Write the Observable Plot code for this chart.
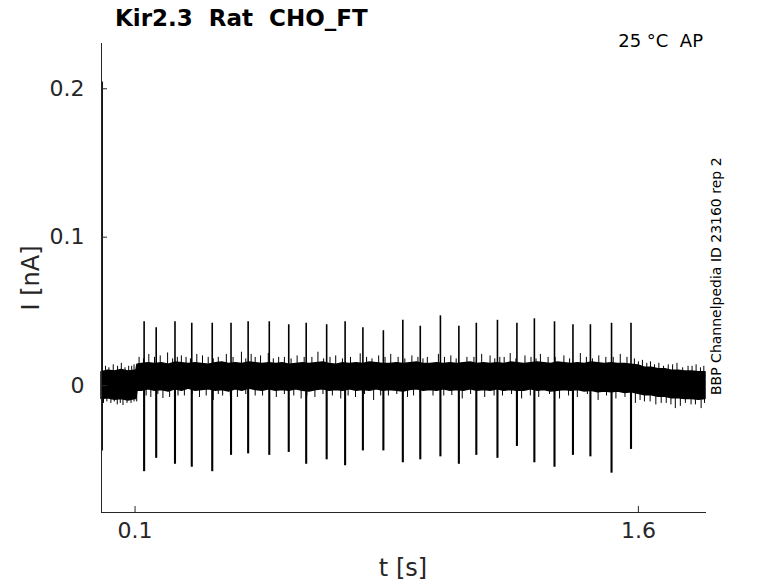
<!DOCTYPE html>
<html>
<head>
<meta charset="utf-8">
<script src="https://cdn.jsdelivr.net/npm/d3@7"></script>
<script src="https://cdn.jsdelivr.net/npm/@observablehq/plot@0.6"></script>
<style>
  html, body { margin: 0; padding: 0; background: #fff; }
  #chart { width: 778px; height: 583px; }
</style>
</head>
<body>
<div id="chart"></div>
<script>
// ---- data ----
const title = "Kir2.3  Rat  CHO_FT";
const condition = "25 °C  AP";
const sideNote = "BBP Channelpedia ID 23160 rep 2";
const xLabel = "t [s]";
const yLabel = "I [nA]";
const xTicks = [0.1, 1.6];
const yTicks = [0, 0.1, 0.2];

// stimulus-artifact spikes: time (s), peak (nA), trough (nA)
const spikeT  = [0.127, 0.163, 0.219, 0.269, 0.330, 0.386, 0.437, 0.500, 0.558, 0.610, 0.671, 0.726, 0.779, 0.840,
                 0.898, 0.950, 1.010, 1.065, 1.117, 1.180, 1.238, 1.290, 1.350, 1.405, 1.457, 1.520, 1.578];
const spikeHi = [0.043, 0.039, 0.043, 0.042, 0.042, 0.042, 0.043, 0.043, 0.041, 0.042, 0.041, 0.043, 0.039, 0.037,
                 0.044, 0.040, 0.047, 0.040, 0.042, 0.044, 0.042, 0.045, 0.043, 0.041, 0.041, 0.042, 0.042];
const spikeLo = [-0.058, -0.049, -0.053, -0.055, -0.058, -0.047, -0.046, -0.047, -0.045, -0.053, -0.050, -0.054, -0.044, -0.044,
                 -0.052, -0.050, -0.048, -0.053, -0.047, -0.049, -0.041, -0.052, -0.055, -0.047, -0.048, -0.059, -0.043];

// capacitive transient at the start
const transientT = [0.002];
const transientHi = [0.2045];
const transientLo = [-0.044];

// noise band envelope (solid core)
const bandT = [0.00,0.02,0.04,0.06,0.08,0.10,0.104,0.107,0.12,0.14,0.16,0.18,0.20,0.22,0.24,0.26,0.28,0.30,0.32,0.34,0.36,0.38,
               0.40,0.42,0.44,0.46,0.48,0.50,0.52,0.54,0.56,0.58,0.60,0.62,0.64,0.66,0.68,0.70,0.72,0.74,0.76,0.78,
               0.80,0.82,0.84,0.86,0.88,0.90,0.92,0.94,0.96,0.98,1.00,1.02,1.04,1.06,1.08,1.10,1.12,1.14,1.16,1.18,
               1.20,1.22,1.24,1.26,1.28,1.30,1.32,1.34,1.36,1.38,1.40,1.42,1.44,1.46,1.48,1.50,1.52,1.54,1.56,1.58,
               1.60,1.62,1.64,1.66,1.68,1.70,1.72,1.74,1.76,1.78,1.80];
const bandHi = [0.0090,0.0100,0.0095,0.0105,0.0095,0.0100,0.0100,0.0140,0.0145,0.0150,0.0145,0.0150,0.0140,0.0155,0.0150,0.0145,0.0150,0.0145,0.0140,0.0150,0.0155,0.0145,
                0.0150,0.0145,0.0155,0.0150,0.0145,0.0150,0.0145,0.0150,0.0140,0.0145,0.0150,0.0145,0.0150,0.0155,0.0145,0.0140,0.0150,0.0145,0.0150,0.0145,
                0.0155,0.0150,0.0145,0.0145,0.0150,0.0145,0.0150,0.0155,0.0145,0.0145,0.0150,0.0145,0.0150,0.0145,0.0150,0.0155,0.0145,0.0150,0.0145,0.0150,
                0.0145,0.0155,0.0150,0.0145,0.0150,0.0155,0.0150,0.0145,0.0155,0.0150,0.0145,0.0150,0.0145,0.0155,0.0150,0.0145,0.0150,0.0145,0.0145,0.0140,
                0.0135,0.0120,0.0120,0.0110,0.0110,0.0100,0.0100,0.0095,0.0095,0.0090,0.0090];
const bandLo = [-0.0090,-0.0085,-0.0095,-0.0090,-0.0100,-0.0090,-0.0090,-0.0035,-0.0035,-0.0025,-0.0035,-0.0030,-0.0040,-0.0025,-0.0035,-0.0020,-0.0035,-0.0030,-0.0025,-0.0035,-0.0030,-0.0040,
                -0.0025,-0.0035,-0.0020,-0.0030,-0.0035,-0.0025,-0.0035,-0.0030,-0.0035,-0.0025,-0.0035,-0.0040,-0.0030,-0.0025,-0.0035,-0.0030,-0.0035,-0.0025,-0.0035,-0.0030,
                -0.0035,-0.0025,-0.0035,-0.0030,-0.0035,-0.0040,-0.0030,-0.0025,-0.0035,-0.0030,-0.0035,-0.0025,-0.0035,-0.0030,-0.0035,-0.0025,-0.0035,-0.0030,-0.0035,-0.0025,
                -0.0035,-0.0030,-0.0035,-0.0035,-0.0025,-0.0035,-0.0030,-0.0040,-0.0035,-0.0030,-0.0035,-0.0030,-0.0040,-0.0035,-0.0045,-0.0040,-0.0045,-0.0040,-0.0050,-0.0045,
                -0.0055,-0.0065,-0.0065,-0.0075,-0.0075,-0.0085,-0.0085,-0.0090,-0.0090,-0.0095,-0.0090];

// isolated noise excursions above the core
const noiseUpT = [0.012, 0.035, 0.059, 0.081, 0.097, 0.112, 0.141, 0.175, 0.197, 0.238, 0.252, 0.284, 0.301, 0.348, 0.372,
                  0.417, 0.446, 0.474, 0.497, 0.528, 0.583, 0.627, 0.645, 0.698, 0.742, 0.771, 0.826, 0.862, 0.884, 0.925,
                  0.971, 1.004, 1.041, 1.089, 1.133, 1.158, 1.200, 1.218, 1.262, 1.308, 1.331, 1.378, 1.427, 1.482, 1.503,
                  1.546, 1.566, 1.612, 1.636, 1.661, 1.689, 1.715, 1.748, 1.772, 1.795,
                  0.125, 0.158, 0.212, 0.226, 0.265, 0.318, 0.333, 0.392, 0.430, 0.458, 0.512, 0.545, 0.565, 0.604, 0.662,
                  0.681, 0.718, 0.790, 0.806, 0.845, 0.904, 0.943, 0.958, 1.022, 1.057, 1.110, 1.172, 1.187, 1.235, 1.280,
                  1.295, 1.352, 1.395, 1.445, 1.463, 1.525, 1.588,
                  0.022, 0.048, 0.070, 0.090, 1.600, 1.625, 1.648, 1.675, 1.702, 1.732, 1.760, 1.785];
const noiseUpV = [0.013, 0.014, 0.015, 0.013, 0.014, 0.019, 0.021, 0.020, 0.022, 0.020, 0.019, 0.021, 0.020, 0.019, 0.021,
                  0.0225, 0.021, 0.020, 0.0216, 0.019, 0.020, 0.019, 0.0225, 0.020, 0.019, 0.0214, 0.020, 0.021, 0.019, 0.020,
                  0.019, 0.021, 0.020, 0.019, 0.021, 0.020, 0.019, 0.0216, 0.020, 0.021, 0.019, 0.020, 0.0216, 0.020, 0.019,
                  0.021, 0.019, 0.017, 0.016, 0.015, 0.014, 0.015, 0.013, 0.014, 0.013,
                  0.018, 0.019, 0.018, 0.019, 0.018, 0.019, 0.018, 0.019, 0.018, 0.019, 0.018, 0.019, 0.018, 0.019, 0.018,
                  0.019, 0.018, 0.019, 0.018, 0.019, 0.018, 0.019, 0.018, 0.019, 0.018, 0.019, 0.018, 0.019, 0.018, 0.019,
                  0.018, 0.019, 0.018, 0.019, 0.018, 0.019, 0.018,
                  0.012, 0.013, 0.012, 0.013, 0.016, 0.015, 0.014, 0.013, 0.014, 0.012, 0.013, 0.012];
// isolated noise excursions below the core
const noiseDnT = [0.006, 0.028, 0.047, 0.064, 0.088, 0.105, 0.147, 0.183, 0.203, 0.247, 0.292, 0.333, 0.361, 0.405, 0.458,
                  0.521, 0.573, 0.595, 0.636, 0.688, 0.713, 0.757, 0.811, 0.855, 0.912, 0.950, 0.988, 1.044, 1.075, 1.142,
                  1.195, 1.252, 1.303, 1.365, 1.418, 1.480, 1.533, 1.591, 1.618, 1.652, 1.683, 1.710, 1.725, 1.757, 1.787,
                  0.133, 0.168, 0.228, 0.270, 0.312, 0.348, 0.384, 0.430, 0.480, 0.545, 0.612, 0.660, 0.735, 0.784, 0.832,
                  0.880, 0.930, 1.020, 1.100, 1.170, 1.222, 1.278, 1.335, 1.392, 1.448, 1.505, 1.560,
                  0.016, 0.038, 0.056, 0.076, 0.097, 1.605, 1.635, 1.668, 1.697, 1.740, 1.770, 1.797];
const noiseDnV = [-0.012, -0.012, -0.013, -0.0134, -0.012, -0.011, -0.008, -0.0087, -0.008, -0.007, -0.008, -0.010, -0.007, -0.008, -0.007,
                  -0.008, -0.007, -0.009, -0.008, -0.007, -0.009, -0.008, -0.010, -0.007, -0.008, -0.0087, -0.007, -0.0067, -0.009, -0.008,
                  -0.007, -0.009, -0.008, -0.009, -0.008, -0.010, -0.009, -0.012, -0.011, -0.013, -0.012, -0.0155, -0.014, -0.013, -0.0155,
                  -0.007, -0.006, -0.007, -0.006, -0.007, -0.006, -0.007, -0.006, -0.007, -0.006, -0.007, -0.006, -0.007, -0.006, -0.007,
                  -0.006, -0.007, -0.007, -0.006, -0.007, -0.006, -0.007, -0.006, -0.007, -0.006, -0.007, -0.008,
                  -0.011, -0.011, -0.012, -0.012, -0.011, -0.010, -0.011, -0.012, -0.013, -0.012, -0.013, -0.012];

// ---- tables built from the arrays ----
const spikes = spikeT.map((t, i) => ({t, hi: spikeHi[i], lo: spikeLo[i]}));
const transient = transientT.map((t, i) => ({t, hi: transientHi[i], lo: transientLo[i]}));
const band = bandT.map((t, i) => ({t, hi: bandHi[i], lo: bandLo[i]}));
const noiseUp = noiseUpT.map((t, i) => ({t, v: noiseUpV[i]}));
const noiseDn = noiseDnT.map((t, i) => ({t, v: noiseDnV[i]}));

const W = 778, H = 583;
const mL = 101, mR = 73, mT = 43, mB = 71;
const axisColor = "#262626";
const font = "DejaVu Sans, sans-serif";

const plot = Plot.plot({
  width: W,
  height: H,
  marginLeft: mL,
  marginRight: mR,
  marginTop: mT,
  marginBottom: mB,
  style: {fontFamily: font, background: "#fff", color: axisColor, overflow: "visible"},
  x: {domain: [0, 1.8]},
  y: {domain: [-0.0855, 0.2305]},
  marks: [
    Plot.areaY(band, {x: "t", y1: "lo", y2: "hi", fill: "#000", stroke: "#000", strokeWidth: 1.5}),
    Plot.ruleX(noiseUp, {x: "t", y1: 0.008, y2: "v", stroke: "#000", strokeWidth: 1}),
    Plot.ruleX(noiseDn, {x: "t", y1: 0.0, y2: "v", stroke: "#000", strokeWidth: 1}),
    Plot.ruleX(spikes, {x: "t", y1: 0.005, y2: "hi", stroke: "#000", strokeWidth: 1.6}),
    Plot.ruleX(spikes, {x: "t", y1: 0.0, y2: "lo", stroke: "#000", strokeWidth: 2.1}),
    Plot.ruleX(transient, {x: "t", y1: "lo", y2: "hi", stroke: "#000", strokeWidth: 1.5}),
    // axis lines
    Plot.frame({anchor: "left", stroke: axisColor, strokeWidth: 1}),
    Plot.frame({anchor: "bottom", stroke: axisColor, strokeWidth: 1}),
    // inward ticks
    Plot.ruleY(yTicks, {y: d => d, insetRight: W - mL - mR - 6, stroke: axisColor}),
    Plot.ruleX(xTicks, {x: d => d, insetTop: H - mT - mB - 6, stroke: axisColor}),
    Plot.axisY(yTicks, {tickSize: 0, tickPadding: 17, fontSize: 22, label: null, tickFormat: d => String(d), color: axisColor}),
    Plot.axisX(xTicks, {tickSize: 0, tickPadding: 10, fontSize: 22, label: null, tickFormat: d => String(d), color: axisColor})
  ]
});

document.getElementById("chart").appendChild(plot);

const svg = d3.select(plot);
svg.append("text")
  .attr("x", 115).attr("y", 26)
  .attr("text-anchor", "start")
  .attr("font-family", font).attr("font-weight", "bold").attr("font-size", 23)
  .attr("fill", "#000").text(title);
svg.append("text")
  .attr("x", 703).attr("y", 47)
  .attr("text-anchor", "end")
  .attr("font-family", font).attr("font-size", 18)
  .attr("fill", "#000").text(condition);
svg.append("text")
  .attr("transform", "translate(721,395) rotate(-90)")
  .attr("text-anchor", "start")
  .attr("font-family", font).attr("font-size", 14)
  .attr("fill", "#000").text(sideNote);
svg.append("text")
  .attr("x", 403).attr("y", 576)
  .attr("text-anchor", "middle")
  .attr("font-family", font).attr("font-size", 24)
  .attr("fill", axisColor).text(xLabel);
svg.append("text")
  .attr("transform", "translate(39,278) rotate(-90)")
  .attr("text-anchor", "middle")
  .attr("font-family", font).attr("font-size", 24)
  .attr("fill", axisColor).text(yLabel);
</script>
</body>
</html>
